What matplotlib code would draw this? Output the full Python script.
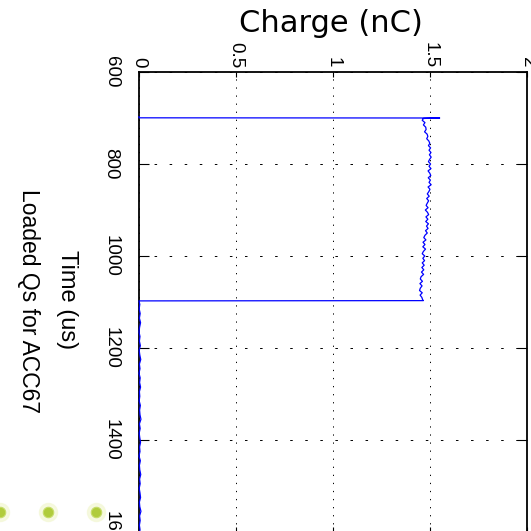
import matplotlib
matplotlib.use("Agg")
import matplotlib.pyplot as plt

# ---- data ----
charge_ticks = [0, 0.5, 1, 1.5, 2]
charge_ticklabels = ["0", "0.5", "1", "1.5", "2"]
time_ticks = [600, 800, 1000, 1200, 1400, 1600]
time_ticklabels = ["600", "800", "1000", "1200", "1400", "1600"]

time_pre = [697, 699.6]
charge_pre = [0.0, 0.0]

time_jump = [700.0]
charge_jump = [1.55]

time_on = [701, 705, 710, 715, 720, 725, 730, 735, 740, 745, 750, 755, 760, 765,
           770, 775, 780, 785, 790, 795, 800, 805, 810, 815, 820, 825, 830, 835,
           840, 845, 850, 855, 860, 865, 870, 875, 880, 885, 890, 895, 900, 905,
           910, 915, 920, 925, 930, 935, 940, 945, 950, 955, 960, 965, 970, 975,
           980, 985, 990, 995, 1000, 1005, 1010, 1015, 1020, 1025, 1030, 1035,
           1040, 1045, 1050, 1055, 1060, 1065, 1070, 1075, 1080, 1085, 1090,
           1095, 1097]
charge_on = [1.466, 1.460, 1.474, 1.466, 1.478, 1.480, 1.472, 1.485, 1.489,
             1.483, 1.494, 1.499, 1.492, 1.503, 1.495, 1.505, 1.497, 1.506,
             1.498, 1.492, 1.503, 1.495, 1.505, 1.490, 1.499, 1.504, 1.491,
             1.502, 1.495, 1.506, 1.490, 1.500, 1.494, 1.486, 1.496, 1.483,
             1.493, 1.486, 1.480, 1.490, 1.476, 1.487, 1.493, 1.479, 1.489,
             1.478, 1.492, 1.482, 1.490, 1.477, 1.486, 1.474, 1.468, 1.479,
             1.464, 1.474, 1.463, 1.477, 1.466, 1.460, 1.473, 1.463, 1.472,
             1.460, 1.470, 1.458, 1.468, 1.456, 1.467, 1.454, 1.450, 1.461,
             1.448, 1.459, 1.450, 1.446, 1.460, 1.449, 1.458, 1.462, 1.466]

time_off = [1097.6, 1105, 1115, 1125, 1135, 1145, 1155, 1165, 1175, 1185, 1195,
            1205, 1215, 1225, 1235, 1245, 1255, 1265, 1275, 1285, 1295, 1305,
            1315, 1325, 1335, 1345, 1355, 1365, 1375, 1385, 1395, 1405, 1415,
            1425, 1435, 1445, 1455, 1465, 1475, 1485, 1495, 1505, 1515, 1525,
            1535, 1545, 1555, 1565, 1575, 1585, 1595, 1600]
charge_off = [0.0, 0.004, 0.001, 0.006, 0.002, 0.008, 0.003, 0.0, 0.005, 0.002,
              0.007, 0.001, 0.004, 0.009, 0.002, 0.005, 0.0, 0.006, 0.003, 0.008,
              0.002, 0.004, 0.001, 0.007, 0.003, 0.005, 0.010, 0.002, 0.006,
              0.001, 0.004, 0.008, 0.003, 0.005, 0.0, 0.007, 0.002, 0.004,
              0.009, 0.003, 0.006, 0.001, 0.005, 0.008, 0.002, 0.004, 0.010,
              0.003, 0.006, 0.002, 0.005, 0.003]

time_trace = time_pre + time_jump + time_on + time_off
charge_trace = charge_pre + charge_jump + charge_on + charge_off

dots_x_px = [0, 48, 96]
dots_y_px = [512, 512, 512]

title_text = "Loaded Qs for ACC67"
xlabel_text = "Time (us)"
ylabel_text = "Charge (nC)"

# ---- figure ----
W = H = 531
fig = plt.figure(figsize=(W / 100, H / 100), dpi=100)
fig.patch.set_facecolor("white")

left, right, top, bottom = 139, 527, 72, 532
ax = fig.add_axes([left / W, 1 - bottom / H, (right - left) / W, (bottom - top) / H])

sans = ["Liberation Sans", "DejaVu Sans"]

ax.plot(charge_trace, time_trace, color="#0000ff", lw=0.9, zorder=3,
        clip_on=False)

ax.set_xlim(0, 2)
ax.set_ylim(1600, 600)

ax.xaxis.tick_top()
ax.set_xticks(charge_ticks)
ax.set_xticklabels(charge_ticklabels, rotation=270, ha="center", va="bottom",
                   family=sans, fontsize=13.5)
ax.set_yticks(time_ticks)
ax.set_yticklabels(time_ticklabels, rotation=270, ha="right", va="center",
                   family=sans, fontsize=13.5)

ax.tick_params(axis="x", which="major", direction="in", length=3.5, width=0.8,
               top=True, bottom=True, pad=3)
ax.tick_params(axis="y", which="major", direction="in", length=7, width=0.8,
               left=True, right=True, pad=14)

for s in ax.spines.values():
    s.set_linewidth(1.3)
    s.set_color("black")

# dotted grids (MATLAB-like)
ax.xaxis.grid(True, color="black", lw=0.7, linestyle=(0, (1.3, 7.0)))
ax.yaxis.grid(True, color="black", lw=0.7, linestyle=(0, (2.6, 12.9)))
ax.set_axisbelow(True)

# labels (figure rotated 90 degrees clockwise)
fig.text(331 / W, 1 - 23 / H, ylabel_text, ha="center", va="center",
         family=["DejaVu Sans"], fontsize=22)
fig.text(67 / W, 1 - 300 / H, xlabel_text, ha="center", va="center",
         rotation=270, family=sans, fontsize=17)
fig.text(28 / W, 1 - 301 / H, title_text, ha="center", va="center",
         rotation=270, family=sans, fontsize=16.5)

# decorative green dots at lower left
fx = [x / W for x in dots_x_px]
fy = [1 - y / H for y in dots_y_px]
fig.add_artist(plt.Line2D(fx, fy, transform=fig.transFigure, ls="none",
                          marker="o", ms=13, color="#f4f8d8", alpha=0.8))
fig.add_artist(plt.Line2D(fx, fy, transform=fig.transFigure, ls="none",
                          marker="o", ms=7.5, color="#b0cc3c",
                          markeredgecolor="#c6dc6a", markeredgewidth=0.8))

fig.savefig("out.png", dpi=100, facecolor="white")
